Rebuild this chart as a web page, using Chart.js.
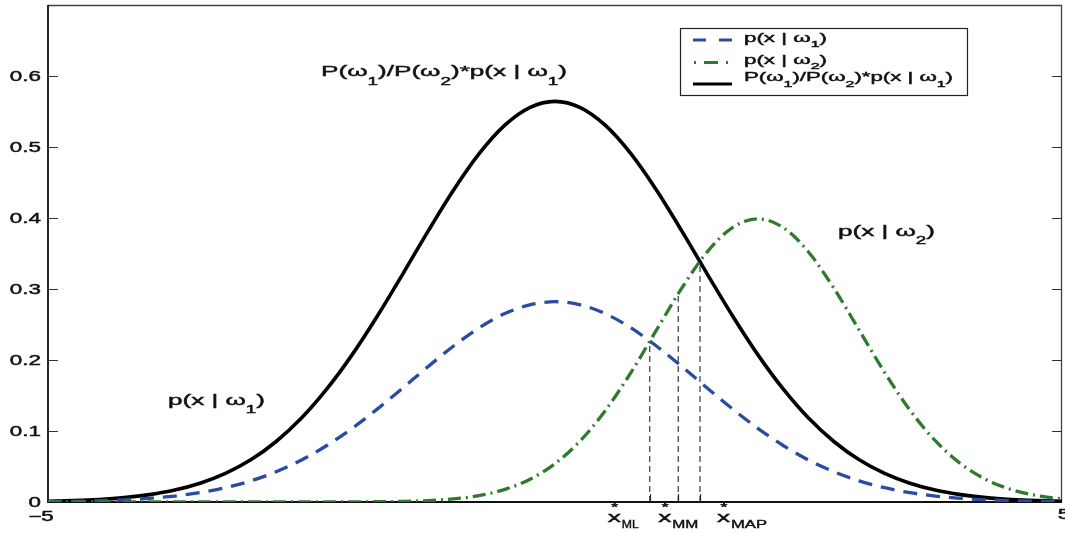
<!DOCTYPE html>
<html><head><meta charset="utf-8">
<script src="https://cdn.jsdelivr.net/npm/chart.js@4"></script>
<style>html,body{margin:0;padding:0;background:#fff}#wrap{width:1065px;height:533px;position:relative}</style>
</head><body><div id="wrap"><canvas id="c"></canvas></div>
<script>
// ---- data ----
const xs = [-5,-4.75,-4.5,-4.25,-4,-3.75,-3.5,-3.25,-3,-2.75,-2.5,-2.25,-2,-1.75,-1.5,-1.25,-1,-0.75,-0.5,-0.25,0,
            0.25,0.5,0.75,1,1.25,1.5,1.75,2,2.25,2.5,2.75,3,3.25,3.5,3.75,4,4.25,4.5,4.75,5];
const pW1 = [0.0005,0.0010,0.0018,0.0031,0.0052,0.0084,0.0132,0.0201,0.0297,0.0426,0.0591,0.0796,0.1038,0.1312,0.1607,0.1909,0.2197,0.2451,0.2650,0.2777,0.2821,
             0.2777,0.2650,0.2451,0.2197,0.1909,0.1607,0.1312,0.1038,0.0796,0.0591,0.0426,0.0297,0.0201,0.0132,0.0084,0.0052,0.0031,0.0018,0.0010,0.0005];
const pW1Scaled = [0.0011,0.0020,0.0036,0.0062,0.0104,0.0168,0.0264,0.0402,0.0594,0.0852,0.1182,0.1592,0.2076,0.2624,0.3214,0.3818,0.4394,0.4902,0.5300,0.5554,0.5642,
                   0.5554,0.5300,0.4902,0.4394,0.3818,0.3214,0.2624,0.2076,0.1592,0.1182,0.0852,0.0594,0.0402,0.0264,0.0168,0.0104,0.0062,0.0036,0.0020,0.0011];
const pW2 = [0,0,0,0,0,0,0,0,0,0,0,0,0.0001,0.0004,0.0009,0.0020,0.0044,0.0091,0.0175,0.0317,0.0540,
             0.0863,0.1295,0.1826,0.2420,0.3011,0.3521,0.3866,0.3989,0.3866,0.3521,0.3011,0.2420,0.1826,0.1295,0.0863,0.0540,0.0317,0.0175,0.0091,0.0044];
const yTicks = [0,0.1,0.2,0.3,0.4,0.5,0.6];
const yTickLabels = ['0','0.1','0.2','0.3','0.4','0.5','0.6'];
const xTicks = [-5,5];
const xTickLabels = ['\u22125','5'];
const markerX = [0.935,1.215,1.43];
const markerY = [0.226,0.293,0.339];
const markerNames = ['ML','MM','MAP'];

const FONT = '"Liberation Sans", Arial, Helvetica, sans-serif';
const BLUE = '#2b4aa3', GREEN = '#2e7a2e', INK = '#111';

function toPts(ys){ return xs.map((x,i)=>({x:x,y:ys[i]})); }

function richWidth(ctx, parts, size, subScale){
  let w=0;
  for(const p of parts){ ctx.font=(p.s?size*subScale:size)+'px '+FONT; w+=ctx.measureText(p.t).width; }
  return w;
}
function txt(ctx, t, x, y){
  ctx.fillText(t,x,y);
  ctx.strokeText(t,x,y);
}
function drawRich(ctx, parts, x, y, size, width, o){
  o=o||{};
  const subScale=o.subScale||0.72, subOff=o.subOff||0.45, align=o.align||'left';
  const nat=richWidth(ctx,parts,size,subScale);
  const sx= width ? width/nat : (o.sx||1.6);
  const w=nat*sx;
  const x0= align==='right'? x-w : (align==='center'? x-w/2 : x);
  ctx.save();
  ctx.translate(x0,y); ctx.scale(sx,1);
  ctx.textAlign='left'; ctx.textBaseline=o.baseline||'alphabetic';
  ctx.fillStyle=o.color||INK; ctx.strokeStyle=o.color||INK; ctx.lineWidth=0.45;
  let cx=0;
  for(const p of parts){
    const fs=p.s?size*subScale:size;
    ctx.font=fs+'px '+FONT;
    txt(ctx,p.t,cx,p.s?size*subOff:0);
    cx+=ctx.measureText(p.t).width;
  }
  ctx.restore();
}
const lblP1 = [{t:'p(x | \u03c9'},{t:'1',s:1},{t:')'}];
const lblP2 = [{t:'p(x | \u03c9'},{t:'2',s:1},{t:')'}];
const lblRatio = [{t:'P(\u03c9'},{t:'1',s:1},{t:')/P(\u03c9'},{t:'2',s:1},{t:')*p(x | \u03c9'},{t:'1',s:1},{t:')'}];

const framePlugin = {
  id:'frame',
  beforeDatasetsDraw(chart){
    const ctx=chart.ctx, a=chart.chartArea, ys=chart.scales.y, xsc=chart.scales.x;
    ctx.save();
    ctx.setLineDash([]);
    ctx.strokeStyle='#444'; ctx.lineWidth=1.3;
    ctx.beginPath();
    ctx.moveTo(a.left,a.top+0.5); ctx.lineTo(a.right,a.top+0.5);
    ctx.moveTo(a.right-0.5,a.top); ctx.lineTo(a.right-0.5,a.bottom);
    ctx.stroke();
    ctx.strokeStyle='#111'; ctx.lineWidth=1.8;
    ctx.beginPath();
    ctx.moveTo(a.left,a.top); ctx.lineTo(a.left,a.bottom); ctx.lineTo(a.right,a.bottom);
    ctx.stroke();
    ctx.strokeStyle='#333'; ctx.lineWidth=1.2;
    ctx.beginPath();
    yTicks.forEach(v=>{
      if(v===0) return;
      const py=Math.round(ys.getPixelForValue(v))+0.5;
      ctx.moveTo(a.left,py); ctx.lineTo(a.left+10,py);
      ctx.moveTo(a.right,py); ctx.lineTo(a.right-10,py);
    });
    markerX.forEach(v=>{
      const px=Math.round(xsc.getPixelForValue(v))+0.5;
      ctx.moveTo(px,a.bottom); ctx.lineTo(px,a.bottom-8);
    });
    ctx.stroke();
    ctx.restore();
  },
  afterDraw(chart){
    const ctx=chart.ctx, a=chart.chartArea, ys=chart.scales.y, xsc=chart.scales.x;
    // y tick labels
    yTicks.forEach((v,i)=>{
      drawRich(ctx,[{t:yTickLabels[i]}],41,ys.getPixelForValue(v)+1,14,0,{align:'right',baseline:'middle',sx:1.6});
    });
    // x tick labels
    drawRich(ctx,[{t:xTickLabels[0]}],41,517,14,0,{align:'center',baseline:'middle',sx:1.6});
    drawRich(ctx,[{t:xTickLabels[1]}],xsc.getPixelForValue(xTicks[1])+2,515,14,0,{align:'center',baseline:'middle',sx:1.6});
    // marker labels x*_ML etc
    const offs=[-42,-20,17], subW=[17,26,36];
    markerX.forEach((v,i)=>{
      const px=xsc.getPixelForValue(v)+offs[i];
      ctx.save();
      ctx.fillStyle=INK; ctx.strokeStyle=INK; ctx.lineWidth=0.45; ctx.textBaseline='alphabetic';
      ctx.translate(px,522); ctx.scale(1.75,1);
      ctx.font='15px '+FONT; txt(ctx,'x',0,0);
      ctx.font='10px '+FONT; txt(ctx,'*',2,-11.5);
      ctx.restore();
      ctx.save();
      ctx.fillStyle=INK; ctx.strokeStyle=INK; ctx.lineWidth=0.4; ctx.font='10.5px '+FONT;
      const nat=ctx.measureText(markerNames[i]).width;
      ctx.translate(px+14,527.5); ctx.scale(subW[i]/nat,1);
      txt(ctx,markerNames[i],0,0);
      ctx.restore();
    });
    // annotations
    drawRich(ctx,lblRatio,321,75.5,15,246,{subOff:0.62});
    drawRich(ctx,lblP1,168,405,15,97,{subOff:0.55});
    drawRich(ctx,lblP2,838,236,15,97,{subOff:0.55});
    // legend
    ctx.save();
    ctx.fillStyle='#fff'; ctx.fillRect(680,28,287,67);
    ctx.strokeStyle='#222'; ctx.lineWidth=1.2; ctx.strokeRect(680.5,28.5,287,67);
    ctx.lineWidth=3;
    ctx.strokeStyle=BLUE; ctx.setLineDash([13,13]);
    ctx.beginPath(); ctx.moveTo(693,40); ctx.lineTo(732,40); ctx.stroke();
    ctx.strokeStyle=GREEN; ctx.setLineDash([2,8,14,8,2,100]);
    ctx.beginPath(); ctx.moveTo(694,62.5); ctx.lineTo(734,62.5); ctx.stroke();
    ctx.strokeStyle='#000'; ctx.setLineDash([]);
    ctx.beginPath(); ctx.moveTo(693,84); ctx.lineTo(732,84); ctx.stroke();
    ctx.restore();
    drawRich(ctx,lblP1,744,41.5,13,83,{subOff:0.45});
    drawRich(ctx,lblP2,744,63.5,13,83,{subOff:0.45});
    drawRich(ctx,lblRatio,744,81,13,209,{subOff:0.45});
  }
};

const markerSets = markerX.map((mx,i)=>({
  data:[{x:mx,y:0},{x:mx,y:markerY[i]}],
  borderColor:'#111', borderWidth:1, borderDash:[6,4], pointRadius:0, tension:0, order:4
}));

new Chart(document.getElementById('c'),{
  type:'line',
  data:{datasets:[
    {label:'P(w1)/P(w2)*p(x|w1)',data:toPts(pW1Scaled),borderColor:'#000',borderWidth:3.6,pointRadius:0,cubicInterpolationMode:'monotone',order:3},
    {label:'p(x|w1)',data:toPts(pW1),borderColor:BLUE,borderWidth:3.3,borderDash:[14,9],pointRadius:0,cubicInterpolationMode:'monotone',order:2},
    {label:'p(x|w2)',data:toPts(pW2),borderColor:GREEN,borderWidth:3.3,borderDash:[13,5,2,5],pointRadius:0,cubicInterpolationMode:'monotone',order:1},
    ...markerSets
  ]},
  options:{
    responsive:true, maintainAspectRatio:false, animation:false,
    layout:{padding:{left:48,right:3,top:5,bottom:31},autoPadding:false},
    plugins:{legend:{display:false},tooltip:{enabled:false}},
    scales:{
      x:{type:'linear',min:-5,max:5,display:false},
      y:{type:'linear',min:0,max:0.7,display:false}
    }
  },
  plugins:[framePlugin]
});
</script>
</body></html>
